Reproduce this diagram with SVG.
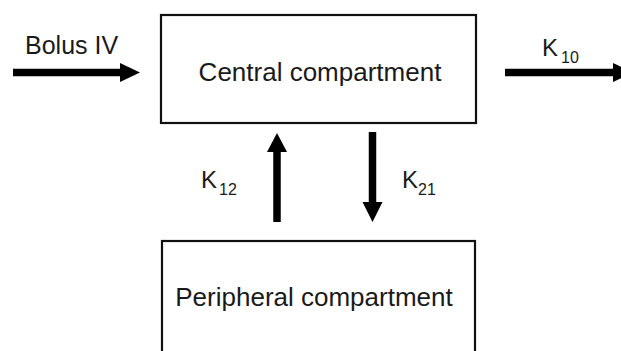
<svg xmlns="http://www.w3.org/2000/svg" width="621" height="351" viewBox="0 0 621 351">
<style>
.box{fill:#fff;stroke:#111;stroke-width:2.2}
.t{font-family:"Liberation Sans",Arial,sans-serif;fill:#1a1a1a}
.lbl{font-size:26px}
.k{font-size:24px}
.sub{font-size:16px}
.shaft{stroke:#000;stroke-width:7.5;fill:none}
.head{fill:#000}
</style>
<rect width="621" height="351" fill="#fff"/>
<g id="central">
<rect class="box" x="161" y="15" width="315" height="108"/>
<text class="t lbl" x="320" y="81" text-anchor="middle">Central compartment</text>
</g>
<g id="peripheral">
<rect class="box" x="162" y="241" width="313" height="130"/>
<text class="t lbl" x="314" y="306" text-anchor="middle">Peripheral compartment</text>
</g>
<g id="connectors">
<g id="bolus">
<line class="shaft" x1="13" y1="72.5" x2="121" y2="72.5"/>
<polygon class="head" points="120,63 140,72.5 120,82"/>
<text class="t" x="25" y="54" font-size="25">Bolus IV</text>
</g>
<g id="k10">
<line class="shaft" x1="505" y1="72.5" x2="614" y2="72.5"/>
<polygon class="head" points="613,63 633,72.5 613,82"/>
<text class="t" x="542" y="56"><tspan class="k" font-size="25">K</tspan><tspan class="sub" x="561" y="63">10</tspan></text>
</g>
<g id="k12">
<line class="shaft" x1="277" y1="222" x2="277" y2="151"/>
<polygon class="head" points="267,152 277,133 287,152"/>
<text class="t" x="201" y="188"><tspan class="k">K</tspan><tspan class="sub" x="219" y="195">12</tspan></text>
</g>
<g id="k21">
<line class="shaft" x1="372.5" y1="132" x2="372.5" y2="203"/>
<polygon class="head" points="362.5,202 372.5,222 382.5,202"/>
<text class="t" x="402" y="188"><tspan class="k">K</tspan><tspan class="sub" x="418" y="195">21</tspan></text>
</g>
</g>
</svg>
